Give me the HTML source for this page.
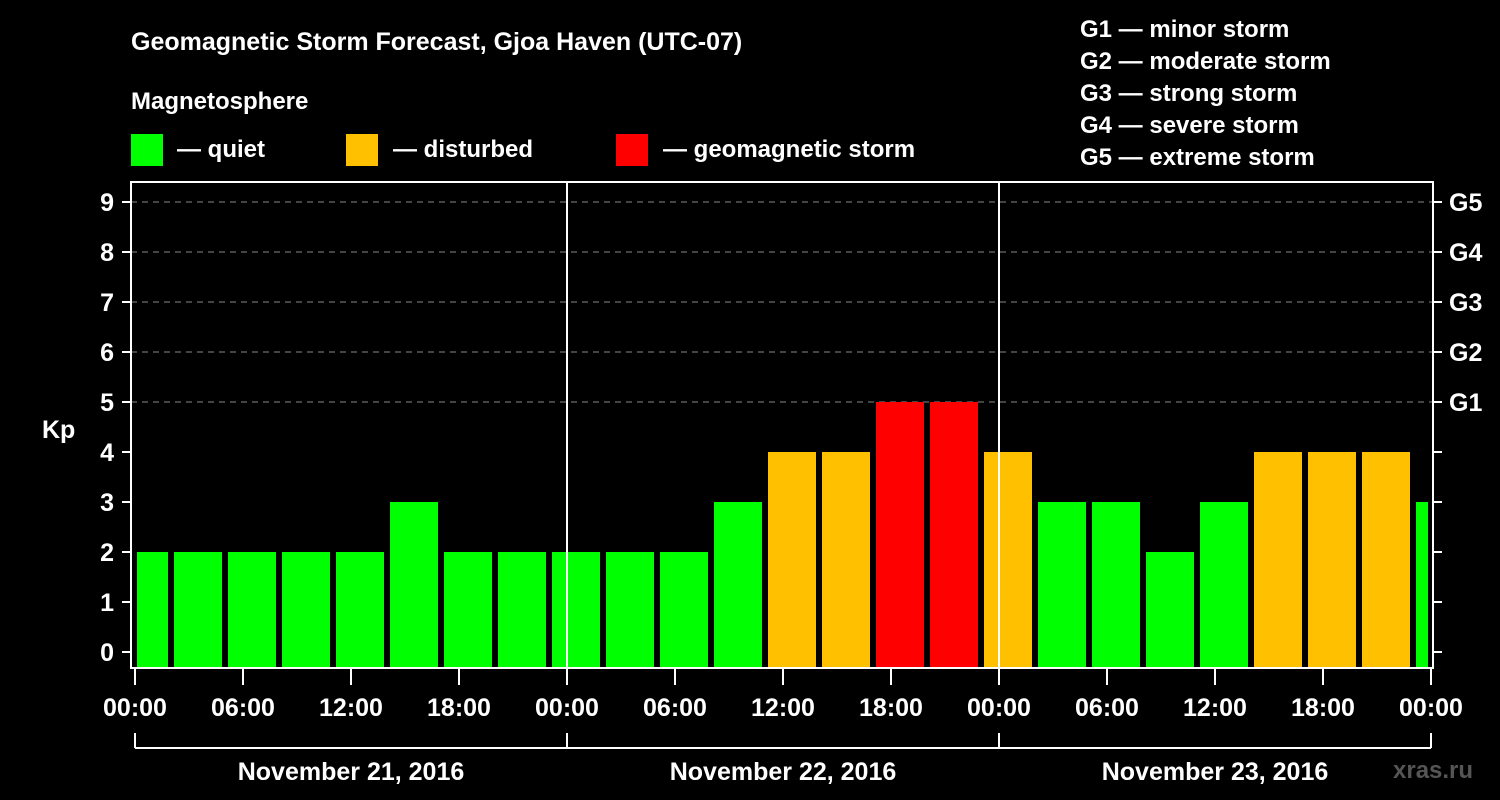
<!DOCTYPE html>
<html><head><meta charset="utf-8"><style>
body{margin:0;background:#000;}
svg{display:block;font-family:"Liberation Sans",Arial,sans-serif;font-weight:bold;}
</style></head><body>
<svg id="c" width="1500" height="800" viewBox="0 0 1500 800">
<rect width="1500" height="800" fill="#000"/>
<text x="131" y="50" fill="#fff" font-size="25">Geomagnetic Storm Forecast, Gjoa Haven (UTC-07)</text>
<text x="131" y="109" fill="#fff" font-size="24">Magnetosphere</text>
<g><rect x="131" y="134" width="32" height="32" fill="#00ff00"/><text x="177" y="157" fill="#fff" font-size="24">— quiet</text></g>
<g><rect x="346" y="134" width="32" height="32" fill="#ffc000"/><text x="393" y="157" fill="#fff" font-size="24">— disturbed</text></g>
<g><rect x="616" y="134" width="32" height="32" fill="#ff0000"/><text x="663" y="157" fill="#fff" font-size="24">— geomagnetic storm</text></g>
<g fill="#fff" font-size="24">
<text x="1080" y="37">G1 — minor storm</text>
<text x="1080" y="69">G2 — moderate storm</text>
<text x="1080" y="101">G3 — strong storm</text>
<text x="1080" y="133">G4 — severe storm</text>
<text x="1080" y="165">G5 — extreme storm</text>
</g>
<text x="42" y="438" fill="#fff" font-size="25">Kp</text>
<text x="1393" y="778" fill="#555" font-size="24">xras.ru</text>
<g id="grid"></g><g id="bars"></g><g id="axes"></g>
</svg>
<script>
const kpValues=[2,2,2,2,2,3,2,2,2,2,2,3,4,4,5,5,4,3,3,2,3,4,4,4,3];
const yTicks=[0,1,2,3,4,5,6,7,8,9];
const gLabels=["G1","G2","G3","G4","G5"];
const xTickLabels=["00:00","06:00","12:00","18:00","00:00","06:00","12:00","18:00","00:00","06:00","12:00","18:00","00:00"];
const dayLabels=["November 21, 2016","November 22, 2016","November 23, 2016"];
const NS="http://www.w3.org/2000/svg";
const X0=135,PX_H=18,PL=131,PR=1433,PT=182,PB=668;
const y=k=>652-50*k;
const x=h=>X0+h*PX_H;
function mk(tag,attrs,parent,txt){const e=document.createElementNS(NS,tag);for(const k in attrs)e.setAttribute(k,attrs[k]);if(txt!==undefined)e.textContent=txt;parent.appendChild(e);return e;}
const grid=document.getElementById('grid'),bars=document.getElementById('bars'),axes=document.getElementById('axes');
for(let k=5;k<=9;k++){const l=mk('line',{x1:PL,x2:PR,y1:y(k),y2:y(k),stroke:'#888','stroke-dasharray':'6,5','stroke-width':1},grid);

}
const colorFor=v=>v>=5?'#ff0000':v>=4?'#ffc000':'#00ff00';
kpValues.forEach((v,i)=>{const c=x(i*3+0.5);let l=Math.max(c-24,137),r=Math.min(c+24,1428);
const b=mk('rect',{x:l,y:y(v),width:r-l,height:PB-y(v),fill:colorFor(v)},bars);

});
// day separators
[1,2].forEach(d=>{const l=mk('line',{x1:x(d*24),x2:x(d*24),y1:PT,y2:PB,stroke:'#fff','stroke-width':2},axes);

});
const fr=mk('rect',{x:PL,y:PT,width:PR-PL,height:PB-PT,fill:'none',stroke:'#fff','stroke-width':2},axes);


yTicks.forEach(k=>{mk('line',{x1:122,x2:PL,y1:y(k),y2:y(k),stroke:'#fff','stroke-width':2},axes);
mk('line',{x1:PR,x2:1442,y1:y(k),y2:y(k),stroke:'#fff','stroke-width':2},axes);
const t=mk('text',{x:114,y:y(k)+9,fill:'#fff','font-size':25,'text-anchor':'end'},axes,String(k));

});
gLabels.forEach((g,i)=>{const t=mk('text',{x:1449,y:y(5+i)+9,fill:'#fff','font-size':25},axes,g);

});
xTickLabels.forEach((s,i)=>{const xx=x(i*6);mk('line',{x1:xx,x2:xx,y1:PB,y2:685,stroke:'#fff','stroke-width':2},axes);
const t=mk('text',{x:xx,y:716,fill:'#fff','font-size':25,'text-anchor':'middle'},axes,s);

});
mk('line',{x1:x(0),x2:x(72),y1:748,y2:748,stroke:'#fff','stroke-width':2},axes);
[0,24,48,72].forEach(h=>mk('line',{x1:x(h),x2:x(h),y1:733,y2:748,stroke:'#fff','stroke-width':2},axes));
dayLabels.forEach((s,i)=>{const t=mk('text',{x:x(i*24+12),y:780,fill:'#fff','font-size':25,'text-anchor':'middle'},axes,s);

});
</script>
</body></html>
